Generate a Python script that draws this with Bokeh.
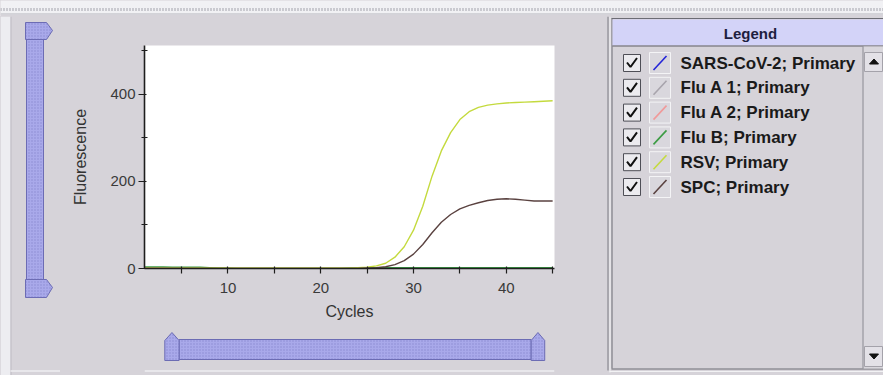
from bokeh.plotting import figure
from bokeh.layouts import row, column
from bokeh.models import Range1d, FixedTicker
from bokeh.core.properties import value
from bokeh.embed import file_html
from bokeh.resources import INLINE

# ---------------- data ----------------
cycles = [1, 2, 3, 4, 5, 6, 7, 8, 9, 10, 11, 12, 13, 14, 15, 16, 17, 18, 19, 20,
          21, 22, 23, 24, 25, 26, 27, 28, 29, 30, 31, 32, 33, 34, 35, 36, 37, 38, 39, 40,
          41, 42, 43, 44, 45]

sars_cov_2 = [1, 1, 1, 1, 1, 0, 0, 0, 0, 0, 0, 0, 0, 0, 0, 0, 0, 0, 0, 0,
              0, 0, 0, 0, 1, 1, 1, 1, 1, 1, 1, 1, 1, 1, 1, 1, 1, 1, 1, 1,
              1, 1, 1, 1, 1]
flu_a_1 = [1, 1, 1, 1, 0, 0, 0, 0, 0, 0, 0, 0, 0, 0, 0, 0, 0, 0, 0, 0,
           0, 0, 0, 0, 1, 1, 1, 1, 1, 1, 1, 1, 1, 1, 1, 1, 1, 1, 1, 1,
           1, 1, 1, 1, 1]
flu_a_2 = [1, 1, 1, 1, 1, 1, 0, 0, 0, 0, 0, 0, 0, 0, 0, 0, 0, 0, 0, 0,
           0, 0, 0, 0, 1, 1, 1, 1, 1, 1, 1, 1, 1, 1, 1, 1, 1, 1, 1, 1,
           1, 1, 1, 1, 1]
flu_b = [4, 4, 4, 3, 3, 3, 3, 2, 1, 1, 0, 0, 0, 0, 0, 0, 0, 0, 0, 0,
         0, 0, 1, 2, 2, 2, 2, 2, 2, 2, 2, 2, 2, 2, 2, 2, 2, 2, 2, 2,
         2, 2, 2, 2, 2]
rsv = [1, 1, 1, 1, 1, 1, 1, 1, 1, 1, 1, 1, 1, 1, 1, 1, 1, 1, 1, 1,
       1, 1, 1, 2, 3, 6, 12, 26, 50, 88, 143, 212, 270, 312, 342, 360, 370, 375, 378, 380,
       381, 382, 383, 384, 385]
spc = [0, 0, 0, 0, 0, 0, 0, 0, 0, 0, 0, 0, 0, 0, 0, 0, 0, 0, 0, 0,
       0, 0, 0, 0, 1, 2, 4, 9, 18, 33, 55, 82, 106, 124, 137, 145, 151, 156, 159, 160,
       159, 157, 155, 155, 155]

series_names = ["SARS-CoV-2; Primary", "Flu A 1; Primary", "Flu A 2; Primary",
                "Flu B; Primary", "RSV; Primary", "SPC; Primary"]
series_values = [sars_cov_2, flu_a_1, flu_a_2, flu_b, rsv, spc]
series_colors = ["#2424d8", "#a8a4ac", "#f09a9a", "#3c9c44", "#c4da3e", "#5a4240"]

x_major_ticks = [10, 20, 30, 40]
x_minor_ticks = [5, 15, 25, 35, 45]
y_major_ticks = [0, 200, 400]
y_minor_ticks = [100, 300, 500]

# ---------------- styles ----------------
PANEL = "#d6d3d9"
SLIDER = "#a9a9ea"
SLIDER_LINE = "#6c6cb4"
FONT = "Liberation Sans"


def panel_fig(w, h, x0, x1, y0, y1, bg=PANEL):
    f = figure(width=w, height=h, x_range=Range1d(x0, x1), y_range=Range1d(y1, y0),
               output_backend="svg", toolbar_location=None,
               x_axis_type=None, y_axis_type=None, min_border=0,
               background_fill_color=bg, border_fill_color=bg,
               outline_line_color=None)
    return f


def slider_style():
    return dict(fill_color=SLIDER, line_color=SLIDER_LINE, line_width=1,
                hatch_pattern=".", hatch_color="#8080c8", hatch_scale=3,
                hatch_alpha=0.7)


# ---------- top dotted strip (screen y 0..16) ----------
top = panel_fig(883, 16, 0, 883, 0, 16, bg="#f1f1f4")
top.segment(x0=[0], y0=[9], x1=[883], y1=[9], line_color="#a2a2ac",
            line_width=3, line_dash="1 2")
top.segment(x0=[0], y0=[13.5], x1=[883], y1=[13.5], line_color="#b4b4bc", line_width=1)
top.quad(left=[0], right=[883], top=[14], bottom=[16], fill_color=PANEL, line_color=None)

# ---------- left strip with vertical slider (x 0..60) ----------
left = panel_fig(60, 359, 0, 60, 16, 375)
left.quad(left=[0], right=[10], top=[16], bottom=[375], fill_color="#ededf1", line_color=None)
left.segment(x0=[10.5], y0=[16], x1=[10.5], y1=[375], line_color="#bebcc4")
left.quad(left=[26], right=[43], top=[39], bottom=[280], **slider_style())
left.patches(xs=[[25, 46, 52, 46, 25], [25, 46, 52, 46, 25]],
             ys=[[22, 22, 30, 39, 39], [279, 279, 287, 297, 297]], **slider_style())
left.segment(x0=[10], y0=[370.5], x1=[60], y1=[370.5], line_color="#eeeef0", line_width=1.5)

# ---------- chart ----------
p = figure(width=545, height=314, x_range=Range1d(1, 45.2), y_range=Range1d(0, 512),
           output_backend="svg", toolbar_location=None,
           min_border_left=84, min_border_right=51, min_border_top=29, min_border_bottom=62,
           background_fill_color="white", border_fill_color=PANEL,
           outline_line_color=None)
p.grid.visible = False

for vals, col in zip(series_values, series_colors):
    lw = 1.4 if col in ("#c4da3e", "#5a4240") else 1.2
    p.line(cycles, vals, line_color=col, line_width=lw)

p.xaxis.ticker = FixedTicker(ticks=x_major_ticks, minor_ticks=x_minor_ticks)
p.yaxis.ticker = FixedTicker(ticks=y_major_ticks, minor_ticks=y_minor_ticks)
p.xaxis.axis_label = "Cycles"
p.yaxis.axis_label = "Fluorescence"
for ax in (p.xaxis, p.yaxis):
    ax.axis_line_color = "#1e1e1e"
    ax.axis_line_width = 1.6
    ax.major_tick_line_color = "#1e1e1e"
    ax.minor_tick_line_color = "#1e1e1e"
    ax.major_tick_line_width = 1.2
    ax.minor_tick_line_width = 1.2
    ax.major_label_text_font = FONT
    ax.major_label_text_font_size = "15px"
    ax.major_label_text_color = "#3a3a3a"
    ax.axis_label_text_font = FONT
    ax.axis_label_text_font_size = "16px"
    ax.axis_label_text_font_style = "normal"
    ax.axis_label_text_color = "#333333"
p.xaxis.major_tick_in = 2
p.xaxis.major_tick_out = 5
p.xaxis.minor_tick_in = 2
p.xaxis.minor_tick_out = 5
p.xaxis.major_label_standoff = 9
p.xaxis.axis_label_standoff = 7
p.yaxis.major_tick_in = 2
p.yaxis.major_tick_out = 6
p.yaxis.minor_tick_in = 3
p.yaxis.minor_tick_out = 3
p.yaxis.major_label_standoff = 3
p.yaxis.axis_label_standoff = 18

# ---------- bottom strip with horizontal slider ----------
bottom = panel_fig(545, 45, 60, 605, 330, 375)
bottom.quad(left=[106], right=[574], top=[339], bottom=[359], **slider_style())
bottom.patches(xs=[[87, 87, 96.5, 106, 106], [574, 574, 583, 592, 592]],
               ys=[[360, 340, 332, 340, 360], [360, 340, 332, 340, 360]], **slider_style())
bottom.segment(x0=[60], y0=[370.5], x1=[605], y1=[370.5], line_color="#eeeef0", line_width=1.5)

# ---------- legend panel ----------
lg = panel_fig(278, 359, 605, 883, 16, 375)
lg.segment(x0=[607.5, 609.5, 611.5], y0=[16, 16, 18], x1=[607.5, 609.5, 611.5], y1=[370, 372, 368],
           line_color=["#7a7a82", "#f2f2f4", "#6c6c74"], line_width=1)
lg.segment(x0=[611, 611, 609], y0=[18, 368.5, 371], x1=[883, 883, 883], y1=[18, 368.5, 371],
           line_color=["#6c6c74", "#6c6c74", "#f2f2f4"], line_width=1)
lg.quad(left=[612], right=[883], top=[19], bottom=[45], fill_color="#d3d3f8", line_color=None)
lg.segment(x0=[612], y0=[45.5], x1=[883], y1=[45.5], line_color="#5e5e66", line_width=1)
lg.text(x=[750], y=[32.5], text=["Legend"], text_font=value(FONT), text_font_style="bold",
        text_font_size="15px", text_align="center", text_baseline="middle", text_color="#1e1e40")

# scrollbar
lg.quad(left=[863], right=[883], top=[46], bottom=[368], fill_color="#d9d7dd", line_color=None)
lg.segment(x0=[862.5], y0=[46], x1=[862.5], y1=[368], line_color="#8a8a92", line_width=1)
lg.quad(left=[864, 864], right=[882, 882], top=[52, 346], bottom=[71, 366],
        fill_color="#e3e1e7", line_color="#a4a2aa", line_width=1)
lg.patches(xs=[[869, 873.5, 878], [869, 873.5, 878]],
           ys=[[63.5, 58.5, 63.5], [353.5, 358.5, 353.5]], fill_color="#111111", line_color="#111111")

row_y0 = 62.5
row_step = 24.8
for i, (name, col) in enumerate(zip(series_names, series_colors)):
    cy = row_y0 + i * row_step
    # checkbox
    lg.quad(left=[623], right=[640], top=[cy - 8.5], bottom=[cy + 8.5],
            fill_color="#ecebef", line_color="#4e4e56", line_width=1)
    lg.line(x=[626.5, 630, 636.5], y=[cy - 0.5, cy + 4, cy - 5], line_color="#111111", line_width=2)
    # line icon
    lg.quad(left=[649], right=[670], top=[cy - 10.5], bottom=[cy + 10.5],
            fill_color="#d9d7dd", line_color="#f4f4f6", line_width=1)
    lg.segment(x0=[653], y0=[cy + 7], x1=[666], y1=[cy - 7], line_color=col, line_width=1.6)
    lg.text(x=[680], y=[cy], text=[name], text_font=value(FONT), text_font_style="bold",
            text_font_size="17px", text_baseline="middle", text_color="#1a1a1a")

bg_style = {"background-color": PANEL}
middle = column(p, bottom, styles=bg_style)
body = row(left, middle, lg, styles=bg_style)
layout = column(top, body, styles=bg_style)

open("out.html", "w").write(file_html(layout, INLINE))
